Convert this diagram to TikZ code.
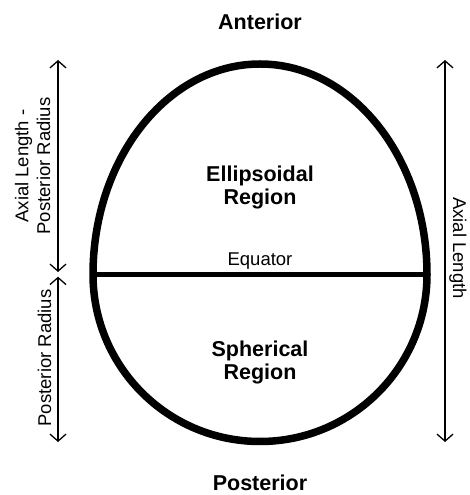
\documentclass[tikz,border=0pt]{standalone}
\usepackage{fontspec}
\setmainfont{Liberation Sans}
\usetikzlibrary{arrows.meta}

\begin{document}
\begin{tikzpicture}[x=1pt,y=1pt,
		dim/.style={line width=1.3pt,{Straight Barb[length=7pt,width=16pt]}-{Straight Barb[length=7pt,width=16pt]}},
		region/.style={align=center,font=\fontsize{21.5}{23.5}\selectfont\bfseries},
		side/.style={align=center,font=\fontsize{18.5}{21.8}\selectfont}]
		\useasboundingbox (0,0) rectangle (470,495);
		% egg outline: half ellipse on top, half circle below
		\draw[line width=7.5pt] (93,220.5) arc [start angle=180, end angle=0, x radius=167, y radius=210.5]
			arc [start angle=0, end angle=-180, radius=167] -- cycle;
		\coordinate (eqL) at (93,220.5);
		\coordinate (eqR) at (427,220.5);
		\draw[line width=4.5pt] (eqL) -- (eqR);
		\node[side,anchor=base] (equator) at (260,229.3) {Equator};
		\node[region,anchor=base] (ant) at (260,465.7) {Anterior};
		\node[region,anchor=base] (post) at (260,4.5) {Posterior};
		\node[region,anchor=base] (ellreg) at (260,290) {Ellipsoidal\\Region};
		\node[region,anchor=base] (sphreg) at (260,115) {Spherical\\Region};
		% dimension arrows
		\coordinate (lt) at (58,435);
		\coordinate (lm1) at (58,223);
		\coordinate (lm2) at (58,218.3);
		\coordinate (lb) at (58,53);
		\coordinate (rt) at (445,435);
		\coordinate (rb) at (445,53);
		\draw[dim] (lt) -- (lm1);
		\draw[dim] (lm2) -- (lb);
		\draw[dim] (rt) -- (rb);
		\node[side,rotate=90] (alpr) at (32.6,329) {Axial Length -\\Posterior Radius};
		\node[side,rotate=90] (pr) at (44.5,137) {Posterior Radius};
		\node[side,rotate=-90] (al) at (458,247) {Axial Length};
	\end{tikzpicture}
\end{document}
